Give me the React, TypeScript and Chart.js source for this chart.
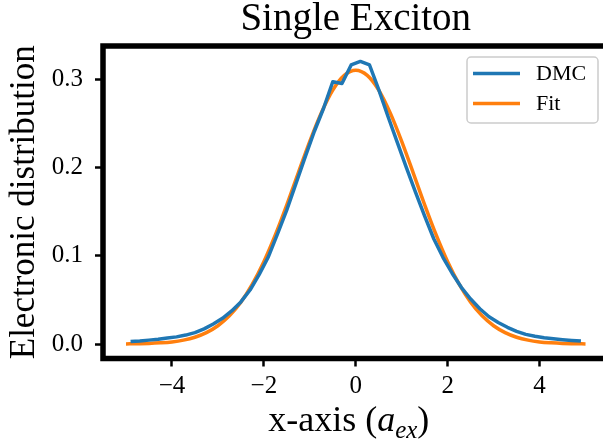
import React, { useEffect, useRef } from "react";
import { Chart, registerables } from "chart.js";

Chart.register(...registerables);

// Electronic distribution of a single exciton: DMC histogram (bin centres) and fitted curve
const dmcX = [
  -4.9, -4.7, -4.5, -4.3, -4.1, -3.9, -3.7, -3.5, -3.3, -3.1,
  -2.9, -2.7, -2.5, -2.3, -2.1, -1.9, -1.7, -1.5, -1.3, -1.1,
  -0.9, -0.7, -0.5, -0.3, -0.1, 0.1, 0.3, 0.5, 0.7, 0.9,
  1.1, 1.3, 1.5, 1.7, 1.9, 2.1, 2.3, 2.5, 2.7, 2.9,
  3.1, 3.3, 3.5, 3.7, 3.9, 4.1, 4.3, 4.5, 4.7, 4.9,
];
const dmcY = [
  0.003, 0.0036, 0.0045, 0.0055, 0.0068, 0.0082, 0.0102, 0.013, 0.0172, 0.0228,
  0.0292, 0.0375, 0.0478, 0.0612, 0.079, 0.099, 0.125, 0.152, 0.182, 0.212,
  0.241, 0.267, 0.297, 0.295, 0.316, 0.32, 0.316, 0.288, 0.258, 0.229,
  0.2, 0.172, 0.145, 0.119, 0.098, 0.08, 0.064, 0.051, 0.04, 0.031,
  0.0245, 0.019, 0.0145, 0.011, 0.0088, 0.0072, 0.006, 0.005, 0.0042, 0.0036,
];

const fitX = [
  -5, -4.75, -4.5, -4.25, -4, -3.75, -3.5, -3.25, -3, -2.75,
  -2.5, -2.25, -2, -1.75, -1.5, -1.25, -1, -0.75, -0.5, -0.25,
  0, 0.25, 0.5, 0.75, 1, 1.25, 1.5, 1.75, 2, 2.25,
  2.5, 2.75, 3, 3.25, 3.5, 3.75, 4, 4.25, 4.5, 4.75, 5,
];
const fitY = [
  0.0002, 0.0004, 0.0007, 0.0014, 0.0025, 0.0045, 0.0078, 0.013, 0.0208, 0.032,
  0.0474, 0.0678, 0.0933, 0.1236, 0.1577, 0.1939, 0.2296, 0.2618, 0.2876, 0.3042,
  0.31, 0.3042, 0.2876, 0.2618, 0.2296, 0.1939, 0.1577, 0.1236, 0.0933, 0.0678,
  0.0474, 0.032, 0.0208, 0.013, 0.0078, 0.0045, 0.0025, 0.0014, 0.0007, 0.0004, 0.0002,
];

const xTicks = [-4, -2, 0, 2, 4];
const yTicks = [0, 0.1, 0.2, 0.3];

const seriesNames = ["DMC", "Fit"];
const seriesColors = ["#1f77b4", "#ff7f0e"];

const titleText = "Single Exciton";
const yTitle = "Electronic distribution";

const SERIF = "'Liberation Serif', 'DejaVu Serif', serif";

// Thick black box around the plotting area
const framePlugin = {
  id: "frame",
  afterDatasetsDraw(chart: any) {
    const { ctx, chartArea: a } = chart;
    ctx.save();
    ctx.strokeStyle = "#000";
    ctx.lineWidth = 5.5;
    ctx.lineJoin = "miter";
    ctx.strokeRect(a.left, a.top, a.right - a.left, a.bottom - a.top);
    ctx.restore();
  },
};

// x-axis title with an italic subscripted symbol
const xTitlePlugin = {
  id: "xTitle",
  afterDraw(chart: any) {
    const { ctx, chartArea: a } = chart;
    const size = 36;
    const subSize = 25;
    const parts = [
      { t: "x-axis (", font: `${size}px ${SERIF}`, dy: 0 },
      { t: "a", font: `italic ${size}px ${SERIF}`, dy: 0 },
      { t: "ex", font: `italic ${subSize}px ${SERIF}`, dy: 7 },
      { t: ")", font: `${size}px ${SERIF}`, dy: 0 },
    ];
    ctx.save();
    ctx.fillStyle = "#000";
    ctx.textBaseline = "alphabetic";
    ctx.textAlign = "left";
    let total = 0;
    const widths = parts.map((p) => {
      ctx.font = p.font;
      const w = ctx.measureText(p.t).width;
      total += w;
      return w;
    });
    let x = (a.left + a.right) / 2 - 7 - total / 2;
    const y = 431;
    parts.forEach((p, i) => {
      ctx.font = p.font;
      ctx.fillText(p.t, x, y + p.dy);
      x += widths[i];
    });
    ctx.restore();
  },
};

// Legend box in the upper right corner of the plotting area
const legendBoxPlugin = {
  id: "legendBox",
  afterDraw(chart: any) {
    const { ctx } = chart;
    const left = 467;
    const top = 57;
    const w = 131;
    const h = 66;
    const r = 4;
    ctx.save();
    ctx.beginPath();
    ctx.moveTo(left + r, top);
    ctx.arcTo(left + w, top, left + w, top + h, r);
    ctx.arcTo(left + w, top + h, left, top + h, r);
    ctx.arcTo(left, top + h, left, top, r);
    ctx.arcTo(left, top, left + w, top, r);
    ctx.closePath();
    ctx.fillStyle = "rgba(255,255,255,0.8)";
    ctx.fill();
    ctx.strokeStyle = "#cccccc";
    ctx.lineWidth = 1.5;
    ctx.stroke();
    ctx.font = `22px ${SERIF}`;
    ctx.textBaseline = "middle";
    ctx.textAlign = "left";
    chart.data.datasets.forEach((ds: any, i: number) => {
      const cy = top + 16.5 + i * 30;
      ctx.strokeStyle = ds.borderColor;
      ctx.lineWidth = 3.5;
      ctx.lineCap = "butt";
      ctx.beginPath();
      ctx.moveTo(left + 6, cy);
      ctx.lineTo(left + 53, cy);
      ctx.stroke();
      ctx.fillStyle = "#000";
      ctx.fillText(ds.label, left + 69, cy + 1);
    });
    ctx.restore();
  },
};

const fmtMinus = (v: number) => (v < 0 ? "\u2212" + Math.abs(v) : String(v));

export default function App() {
  const ref = useRef<HTMLCanvasElement>(null);

  useEffect(() => {
    document.body.style.margin = "0";
    const canvas = ref.current!;
    const chart = new Chart(canvas, {
      type: "line",
      data: {
        datasets: [
          {
            label: seriesNames[0],
            data: dmcX.map((x, i) => ({ x, y: dmcY[i] })),
            borderColor: seriesColors[0],
            backgroundColor: seriesColors[0],
            borderWidth: 3.5,
            pointRadius: 0,
            tension: 0,
            borderJoinStyle: "round",
          },
          {
            label: seriesNames[1],
            data: fitX.map((x, i) => ({ x, y: fitY[i] })),
            borderColor: seriesColors[1],
            backgroundColor: seriesColors[1],
            borderWidth: 3.5,
            pointRadius: 0,
            cubicInterpolationMode: "monotone",
            borderJoinStyle: "round",
          },
        ],
      },
      options: {
        responsive: false,
        animation: false,
        devicePixelRatio: 1,
        layout: { padding: { left: 0, right: 11.5, top: 0, bottom: 0 } },
        plugins: {
          legend: { display: false },
          tooltip: { enabled: false },
          title: {
            display: true,
            text: titleText,
            fullSize: false,
            color: "#000",
            font: { family: SERIF, size: 39, weight: "normal", lineHeight: 1 },
            padding: { top: 0.5, bottom: 6.5 },
          },
        },
        scales: {
          x: {
            type: "linear",
            min: -5.5,
            max: 5.5,
            afterFit: (s: any) => {
              s.height = 84.5;
            },
            afterBuildTicks: (s: any) => {
              s.ticks = xTicks.map((v) => ({ value: v }));
            },
            border: { display: false },
            grid: {
              display: true,
              drawOnChartArea: false,
              drawTicks: true,
              tickLength: 8,
              tickWidth: 2.5,
              tickColor: "#000",
            },
            ticks: {
              color: "#000",
              font: { family: SERIF, size: 25 },
              padding: 5,
              maxRotation: 0,
              callback: (v: any) => fmtMinus(Number(v)),
            },
          },
          y: {
            type: "linear",
            min: -0.0163,
            max: 0.3375,
            afterFit: (s: any) => {
              s.width = 103;
            },
            afterBuildTicks: (s: any) => {
              s.ticks = yTicks.map((v) => ({ value: v }));
            },
            border: { display: false },
            grid: {
              display: true,
              drawOnChartArea: false,
              drawTicks: true,
              tickLength: 8,
              tickWidth: 2.5,
              tickColor: "#000",
            },
            ticks: {
              color: "#000",
              font: { family: SERIF, size: 25 },
              padding: 12,
              callback: (v: any) => Number(v).toFixed(1),
            },
            title: {
              display: true,
              text: yTitle,
              color: "#000",
              font: { family: SERIF, size: 35, lineHeight: 1.2 },
              padding: { top: 3.5, bottom: 0 },
            },
          },
        },
      },
      plugins: [framePlugin, xTitlePlugin, legendBoxPlugin],
    } as any);
    return () => chart.destroy();
  }, []);

  return (
    <div
      style={{
        position: "fixed",
        left: 0,
        top: 0,
        width: 603,
        height: 443,
        overflow: "hidden",
        background: "#fff",
      }}
    >
      <canvas
        ref={ref}
        width={620}
        height={443}
        style={{ display: "block", width: 620, height: 443 }}
      />
    </div>
  );
}
